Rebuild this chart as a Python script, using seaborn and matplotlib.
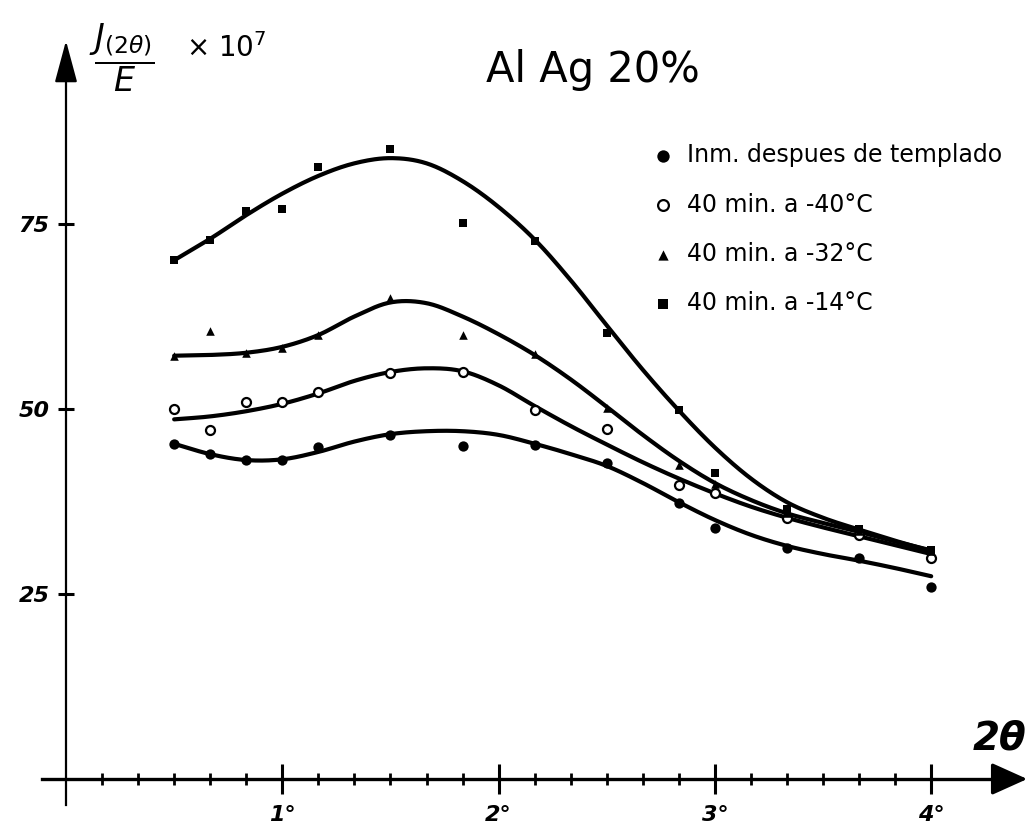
import numpy as np
import pandas as pd
import matplotlib
matplotlib.use("Agg")
import matplotlib.pyplot as plt
import seaborn as sns

# ---------------- data ----------------
angles = [0.5, 2/3, 5/6, 1.0, 7/6, 1.5, 11/6, 13/6, 2.5, 17/6, 3.0, 10/3, 11/3, 4.0]
inm_pts = [45.3, 43.9, 43.1, 43.1, 44.9, 46.5, 45.0, 45.1, 42.7, 37.3, 33.9, 31.2, 29.9, 25.9]
m40_pts = [50.0, 47.2, 50.9, 50.9, 52.3, 54.9, 55.0, 49.9, 47.3, 39.7, 38.6, 35.3, 33.0, 29.9]
m32_pts = [57.2, 60.5, 57.6, 58.2, 60.0, 65.0, 60.0, 57.4, 50.1, 42.4, 39.9, 36.0, 33.5, 30.8]
m14_pts = [70.1, 72.8, 76.7, 77.0, 82.7, 85.1, 75.1, 72.7, 60.3, 49.8, 41.4, 36.5, 33.8, 31.0]

# hand-drawn fitted curves, read at every 10' (1/6 degree)
curve_x = [0.5 + k / 6 for k in range(22)]
inm_curve = [45.3, 43.9, 43.1, 43.2, 44.2, 45.6, 46.6, 47.0, 47.0, 46.5, 45.3, 43.9,
             42.3, 40.0, 37.4, 35.0, 33.0, 31.5, 30.4, 29.5, 28.5, 27.4]
m40_curve = [48.6, 49.0, 49.7, 50.7, 52.1, 53.8, 55.0, 55.5, 55.1, 53.2, 50.4, 47.7,
             45.2, 42.8, 40.6, 38.6, 36.8, 35.3, 34.0, 32.8, 31.6, 30.4]
m32_curve = [57.2, 57.3, 57.6, 58.4, 60.0, 62.5, 64.4, 64.3, 62.5, 60.1, 57.3, 54.0,
             50.3, 46.5, 43.0, 40.0, 37.7, 35.9, 34.6, 33.4, 32.1, 30.9]
m14_curve = [70.1, 73.0, 76.2, 79.1, 81.5, 83.2, 83.9, 83.2, 80.8, 77.3, 72.9, 67.4,
             61.3, 55.3, 49.8, 44.8, 40.6, 37.4, 35.3, 33.7, 32.2, 30.8]

labels = ["Inm. despues de templado", "40 min. a -40°C", "40 min. a -32°C", "40 min. a -14°C"]
x_ticks = [1, 2, 3, 4]
x_ticklabels = ["1°", "2°", "3°", "4°"]
y_ticks = [25, 50, 75]
y_ticklabels = ["25", "50", "75"]


def smooth(xs, ys, n=16):
    """Catmull-Rom rendering of a hand-drawn curve through its read knots."""
    P = np.column_stack([xs, ys]).astype(float)
    P = np.vstack([2 * P[0] - P[1], P, 2 * P[-1] - P[-2]])
    t = np.linspace(0, 1, n, endpoint=False)[:, None]
    out = []
    for i in range(1, len(P) - 2):
        p0, p1, p2, p3 = P[i - 1], P[i], P[i + 1], P[i + 2]
        seg = 0.5 * (2 * p1 + (-p0 + p2) * t + (2 * p0 - 5 * p1 + 4 * p2 - p3) * t ** 2
                     + (-p0 + 3 * p1 - 3 * p2 + p3) * t ** 3)
        out.append(seg)
    out.append(P[-2][None, :])
    return np.vstack(out)


sns.set_style("white")
plt.rcParams["font.family"] = ["DejaVu Sans"]
plt.rcParams["text.color"] = "black"
plt.rcParams["xtick.color"] = "black"
plt.rcParams["ytick.color"] = "black"
plt.rcParams["axes.labelcolor"] = "black"

W, H = 1036, 835
fig = plt.figure(figsize=(W / 100, H / 100), dpi=100)
ax = fig.add_axes([0, 0, 1, 1])

# pixel mapping: x=0 at px 66, 216.3 px/deg ; y=0 at px 779, 7.4 px/unit
x0, sx = 66, 216.3
y0, sy = 779, 7.4
ax.set_xlim(-x0 / sx, (W - x0) / sx)
ax.set_ylim((y0 - H) / sy, y0 / sy)

# curves
for cy in [inm_curve, m40_curve, m32_curve, m14_curve]:
    pts = smooth(curve_x, cy)
    sns.lineplot(x=pts[:, 0], y=pts[:, 1], sort=False, estimator=None,
                 color="black", lw=3.0, ax=ax, legend=False)

# points
sns.scatterplot(x=angles, y=inm_pts, marker="o", color="black", s=55,
                edgecolor="black", linewidth=0, ax=ax, label=labels[0], zorder=5)
sns.scatterplot(x=angles, y=m40_pts, marker="o", color="white", s=42,
                edgecolor="black", linewidth=1.6, ax=ax, label=labels[1], zorder=5)
sns.scatterplot(x=angles, y=m32_pts, marker="^", color="black", s=38,
                edgecolor="black", linewidth=0, ax=ax, label=labels[2], zorder=5)
sns.scatterplot(x=angles, y=m14_pts, marker="s", color="black", s=30,
                edgecolor="black", linewidth=0, ax=ax, label=labels[3], zorder=5)

# axes as arrows through the origin
for s in ["top", "right"]:
    ax.spines[s].set_visible(False)
ax.spines["left"].set_position(("data", 0))
ax.spines["bottom"].set_position(("data", 0))
ax.spines["left"].set_bounds((y0 - 805) / sy, 97)
ax.spines["bottom"].set_bounds((42 - x0) / sx, 4.35)
ax.spines["left"].set_linewidth(1.6)
ax.spines["bottom"].set_linewidth(2.4)
ax.spines["left"].set_color("black")
ax.spines["bottom"].set_color("black")
ax.annotate("", xy=(0, (y0 - 38) / sy), xytext=(0, 95),
            arrowprops=dict(arrowstyle="-|>,head_length=1.3,head_width=0.35",
                            color="black", lw=1.6, mutation_scale=20))
ax.annotate("", xy=((1030 - x0) / sx, 0), xytext=(4.3, 0),
            arrowprops=dict(arrowstyle="-|>,head_length=1.0,head_width=0.45",
                            color="black", lw=2.4, mutation_scale=22))

ax.set_xticks(x_ticks)
ax.set_xticklabels(x_ticklabels, fontsize=16, fontweight="bold", fontstyle="italic")
ax.set_xticks([k / 6 for k in range(1, 24) if k % 6 != 0], minor=True)
ax.tick_params(axis="x", which="major", direction="inout", length=22, width=2.2, pad=8,
               bottom=True)
ax.tick_params(axis="x", which="minor", direction="inout", length=9, width=2.0, bottom=True)
ax.set_yticks(y_ticks)
ax.set_yticklabels(y_ticklabels, fontsize=16, fontweight="bold", fontstyle="italic")
ax.tick_params(axis="y", which="major", direction="inout", length=12, width=2.2, pad=6,
               left=True)
ax.set_xlabel("")
ax.set_ylabel("")

# legend
leg = ax.legend(loc="upper left", bbox_to_anchor=(654 / W, 1 - 143 / H),
                frameon=False, fontsize=17, handlelength=0.8, handletextpad=0.6,
                labelspacing=1.08, borderpad=0, borderaxespad=0, markerscale=1.2)
for t in leg.get_texts():
    t.set_color("black")

# texts
fig.text(593 / W, 1 - 70 / H, "Al Ag 20%", ha="center", va="center", fontsize=30)
fig.text(122 / W, 1 - 58 / H, r"$\dfrac{J_{(2\theta)}}{E}$", ha="center", va="center",
         fontsize=24)
fig.text(186 / W, 1 - 48 / H, r"$\times\ \mathit{10^{7}}$", ha="left", va="center",
         fontsize=20)
fig.text(1000 / W, 1 - 738 / H, "2θ", ha="center", va="center", fontsize=28,
         fontweight="bold", fontstyle="italic")

fig.savefig("out.png", dpi=100, facecolor="white")
